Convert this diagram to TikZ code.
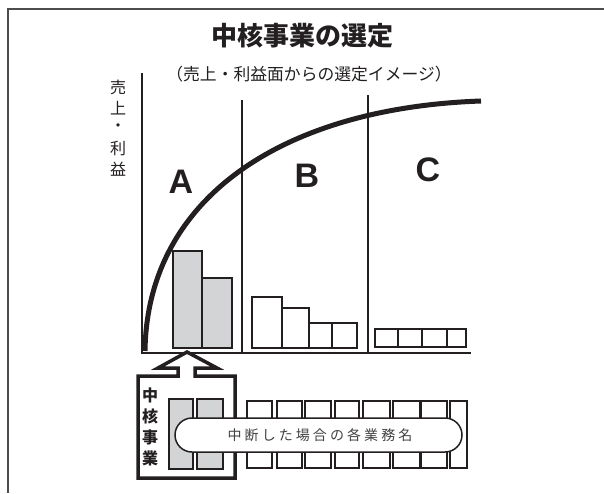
\documentclass[tikz,border=0pt]{standalone}
\usepackage{fontspec}
\setmainfont{Liberation Sans}
\newfontfamily\cjk{Noto Sans CJK JP}
\newfontfamily\cjksp[LetterSpace=22]{Noto Sans CJK JP}
\definecolor{barfill}{HTML}{D3D4D6}
\definecolor{ink}{HTML}{231F20}
\tikzset{
  frameline/.style={draw=ink!80, line width=2pt},
  axisline/.style={draw=ink, line width=1.4pt},
  gbar/.style={draw=ink, fill=barfill, line width=1.5pt},
  wbar/.style={draw=ink, fill=white, line width=1.5pt},
  labelABC/.style={font=\bfseries\fontsize{34}{34}\selectfont, text=ink},
  jlabel/.style={font=\cjk\fontsize{16}{16}\selectfont, text=ink, inner sep=0pt},
}
\begin{document}
\begin{tikzpicture}[x=1pt,y=-1pt]
\useasboundingbox (0,0) rectangle (604,493);
% frame
\coordinate (fb) at (7.5,493);
\coordinate (fc) at (7.5,9);
\coordinate (fr) at (604,9);
\draw[frameline] (fb) -- (fc) -- (fr);
% titles
\node[font=\cjk\bfseries\fontsize{26}{26}\selectfont, text=ink] (title) at (302,36) {中核事業の選定};
\node[font=\cjk\fontsize{16.8}{16.8}\selectfont, text=ink] (sub) at (309,74) {（売上・利益面からの選定イメージ）};
% y label
\node[jlabel] (y1) at (118,87) {売};
\node[jlabel] (y2) at (118,108) {上};
\node[jlabel] (y3) at (118,128) {・};
\node[jlabel] (y4) at (118,148) {利};
\node[jlabel] (y5) at (118,169) {益};
% axes and dividers
\coordinate (ytop) at (142,73);
\coordinate (orig) at (142,353);
\coordinate (xend) at (471,353);
\draw[axisline] (ytop) -- (orig) -- (xend);
\coordinate (d1t) at (242,100);
\coordinate (d1b) at (242,353);
\coordinate (d2t) at (368,95);
\coordinate (d2b) at (368,353);
\draw[axisline] (d1t) -- (d1b);
\draw[axisline] (d2t) -- (d2b);
% curve
\coordinate (cs) at (145,351);
\coordinate (ce) at (481,101);
\draw[draw=ink, line width=5pt] (cs) .. controls (147,200) and (280,108) .. (ce);
% labels
\node[labelABC] (A) at (181,182) {A};
\node[labelABC] (B) at (307,176) {B};
\node[labelABC] (C) at (428,170) {C};
% bars A
\draw[gbar] (173,251) rectangle (202,348);
\draw[gbar] (202,278) rectangle (232,348);
% bars B
\draw[wbar] (252,297) rectangle (282,348);
\draw[wbar] (282,308) rectangle (309,348);
\draw[wbar] (309,323) rectangle (332,348);
\draw[wbar] (332,323) rectangle (357,348);
% bars C
\draw[wbar] (375,329) rectangle (398,347);
\draw[wbar] (398,329) rectangle (422,347);
\draw[wbar] (422,329) rectangle (447,347);
\draw[wbar] (447,329) rectangle (466,347);
% block arrow box
\draw[draw=ink, line width=3.5pt, line join=miter, fill=white]
  (178,368) -- (178,376) -- (138,376) -- (138,478) -- (235,478) -- (235,376)
  -- (195,376) -- (195,368) -- (217,368) -- (187,352) -- (158,368) -- cycle;
\node[font=\cjk\bfseries\fontsize{16}{16}\selectfont, text=ink, inner sep=0pt] (k1) at (150,395) {中};
\node[font=\cjk\bfseries\fontsize{16}{16}\selectfont, text=ink, inner sep=0pt] (k2) at (150,416) {核};
\node[font=\cjk\bfseries\fontsize{16}{16}\selectfont, text=ink, inner sep=0pt] (k3) at (150,437) {事};
\node[font=\cjk\bfseries\fontsize{16}{16}\selectfont, text=ink, inner sep=0pt] (k4) at (150,458) {業};
% gray bars in box
\draw[gbar] (169,399) rectangle (193,469);
\draw[gbar] (197,399) rectangle (223,469);
% white boxes
\foreach \l/\r in {247/272, 277/302, 305/331, 335/359, 363/390, 393/420, 421/447, 450/467}{
  \draw[wbar] (\l,401) rectangle (\r,468);
}
% capsule
\draw[draw=ink, fill=white, line width=1.5pt, rounded corners=17pt] (175,418) rectangle (462,452);
\node[font=\cjksp\fontsize{14}{14}\selectfont, text=ink!85] (cap) at (320,435) {中断した場合の各業務名};
\end{tikzpicture}
\end{document}
